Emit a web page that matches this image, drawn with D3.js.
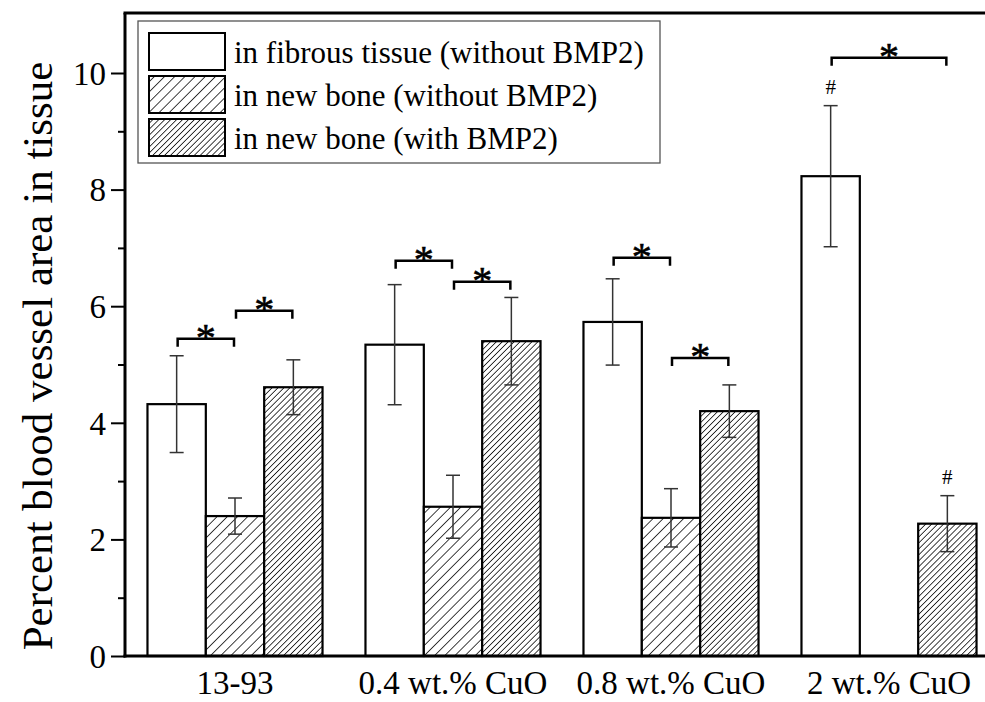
<!DOCTYPE html>
<html>
<head>
<meta charset="utf-8">
<script src="https://cdn.jsdelivr.net/npm/d3@7"></script>
<style>
body { margin: 0; background: #fff; }
</style>
</head>
<body>
<script>
// data
var categories = ["13-93", "0.4 wt.% CuO", "0.8 wt.% CuO", "2 wt.% CuO"];
var seriesNames = ["in fibrous tissue (without BMP2)", "in new bone (without BMP2)", "in new bone (with BMP2)"];
var fibrous = [4.32, 5.34, 5.73, 8.23];
var fibrousErr = [0.83, 1.03, 0.74, 1.21];
var boneNo = [2.40, 2.56, 2.37, null];
var boneNoErr = [0.31, 0.54, 0.50, null];
var boneYes = [4.61, 5.40, 4.20, 2.27];
var boneYesErr = [0.47, 0.75, 0.45, 0.48];
var yTicks = [0, 2, 4, 6, 8, 10];
// significance: group, bar from, bar to, bracket height (value units)
var sigs = [
  [0, 0, 1, 5.44], [0, 1, 2, 5.92],
  [1, 0, 1, 6.78], [1, 1, 2, 6.42],
  [2, 0, 1, 6.83], [2, 1, 2, 5.11],
  [3, 0, 2, 10.26]
];
// "#" marks: group, bar
var hashMarks = [[3, 0], [3, 2]];

var FONT = "'Liberation Serif', 'Times New Roman', Tinos, 'DejaVu Serif', serif";
var width = 985, height = 702;
var svg = d3.select("body").append("svg")
  .attr("width", width)
  .attr("height", height);

var defs = svg.append("defs");
function hatch(id, gap) {
  var p = defs.append("pattern")
    .attr("id", id)
    .attr("patternUnits", "userSpaceOnUse")
    .attr("width", gap).attr("height", gap)
    .attr("patternTransform", "rotate(45)");
  p.append("rect").attr("width", gap).attr("height", gap).attr("fill", "#fff");
  p.append("line")
    .attr("x1", 0).attr("y1", 0).attr("x2", 0).attr("y2", gap)
    .attr("stroke", "#000").attr("stroke-width", 1.5);
}
hatch("hatchSparse", 7.2);
hatch("hatchDense", 4.2);
var fills = ["#fff", "url(#hatchSparse)", "url(#hatchDense)"];

var x0 = 125, yBase = 656;
var x = d3.scaleBand().domain(categories).range([126, 998]).paddingInner(0.197).paddingOuter(0.0985);
var xs = d3.scaleBand().domain([0, 1, 2]).range([0, x.bandwidth()]);
var y = d3.scaleLinear().domain([0, 11]).range([yBase, yBase - 11 * 58.3]);

var rows = [];
categories.forEach(function(c, i) {
  [[fibrous, fibrousErr], [boneNo, boneNoErr], [boneYes, boneYesErr]].forEach(function(s, k) {
    if (s[0][i] != null) rows.push({cat: c, k: k, v: s[0][i], e: s[1][i]});
  });
});
function cx(cat, k) { return x(cat) + xs(k) + xs.bandwidth() / 2; }

// bars
svg.append("g").selectAll("rect")
  .data(rows)
  .enter().append("rect")
  .attr("x", function(d) { return x(d.cat) + xs(d.k); })
  .attr("y", function(d) { return y(d.v); })
  .attr("width", xs.bandwidth())
  .attr("height", function(d) { return yBase - y(d.v); })
  .attr("fill", function(d) { return fills[d.k]; })
  .attr("stroke", "#000")
  .attr("stroke-width", 2.2);

// error bars
var eb = svg.append("g").attr("stroke", "#333").attr("stroke-width", 1.5);
rows.forEach(function(d) {
  var c = cx(d.cat, d.k);
  eb.append("line").attr("x1", c).attr("x2", c).attr("y1", y(d.v + d.e)).attr("y2", y(d.v - d.e));
  eb.append("line").attr("x1", c - 7).attr("x2", c + 7).attr("y1", y(d.v + d.e)).attr("y2", y(d.v + d.e));
  eb.append("line").attr("x1", c - 7).attr("x2", c + 7).attr("y1", y(d.v - d.e)).attr("y2", y(d.v - d.e));
});

// significance brackets
var sg = svg.append("g");
sigs.forEach(function(s) {
  var cat = categories[s[0]];
  var a = cx(cat, s[1]) + 1, b = cx(cat, s[2]) - 1, h = y(s[3]);
  sg.append("path")
    .attr("d", "M" + a + "," + (h + 8) + "V" + h + "H" + b + "V" + (h + 8))
    .attr("fill", "none").attr("stroke", "#000").attr("stroke-width", 2.5);
  sg.append("text")
    .attr("x", (a + b) / 2).attr("y", h + 12)
    .attr("text-anchor", "middle")
    .attr("font-size", 40)
    .style("stroke", "#000").style("stroke-width", 0.6)
    .text("*");
});
hashMarks.forEach(function(m) {
  var cat = categories[m[0]];
  var d = rows.filter(function(r) { return r.cat == cat && r.k == m[1]; })[0];
  svg.append("text")
    .attr("x", cx(cat, m[1])).attr("y", y(d.v + d.e) - 12)
    .attr("text-anchor", "middle")
    .attr("font-size", 21)
    .text("#");
});

// axes
var yAxis = svg.append("g").attr("transform", "translate(" + x0 + ",0)");
yAxis.call(d3.axisLeft(y).tickValues(d3.range(1, 11, 2)).tickSize(7).tickFormat(""));
yAxis.call(function(g) {
  g.append("g").call(d3.axisLeft(y).tickValues(yTicks).tickSize(14).tickFormat(d3.format("d")));
});
yAxis.selectAll(".domain").remove();
yAxis.selectAll("line").attr("stroke", "#000").attr("stroke-width", 2);
yAxis.selectAll("text")
  .attr("font-size", 33)
  .attr("dy", "0.34em")
  .attr("x", -19);

svg.append("line").attr("x1", x0).attr("x2", x0).attr("y1", 13).attr("y2", yBase + 1.5)
  .attr("stroke", "#000").attr("stroke-width", 3);
svg.append("line").attr("x1", x0 - 1.5).attr("x2", width).attr("y1", yBase).attr("y2", yBase)
  .attr("stroke", "#000").attr("stroke-width", 3);
svg.append("line").attr("x1", x0 - 1.5).attr("x2", width).attr("y1", 13).attr("y2", 13)
  .attr("stroke", "#000").attr("stroke-width", 3);

var xAxis = svg.append("g").attr("transform", "translate(0," + yBase + ")")
  .call(d3.axisBottom(x).tickSize(0).tickPadding(0));
xAxis.select(".domain").remove();
xAxis.selectAll("text")
  .attr("font-size", 33)
  .attr("dy", 0)
  .attr("y", 38);

svg.append("text")
  .attr("transform", "translate(52,356) rotate(-90)")
  .attr("text-anchor", "middle")
  .attr("font-size", 43)
  .text("Percent blood vessel area in tissue");

// legend
var lg = svg.append("g").attr("transform", "translate(138,21)");
lg.append("rect").attr("width", 522).attr("height", 142)
  .attr("fill", "#fff").attr("stroke", "#555").attr("stroke-width", 1.3);
seriesNames.forEach(function(n, k) {
  lg.append("rect")
    .attr("x", 11).attr("y", 12 + k * 43)
    .attr("width", 76).attr("height", 37)
    .attr("fill", fills[k]).attr("stroke", "#000").attr("stroke-width", 2);
  lg.append("text")
    .attr("x", 96).attr("y", 42 + k * 43)
    .attr("font-size", 31)
    .text(n);
});

svg.selectAll("text").style("font-family", FONT).style("fill", "#000");
</script>
</body>
</html>
